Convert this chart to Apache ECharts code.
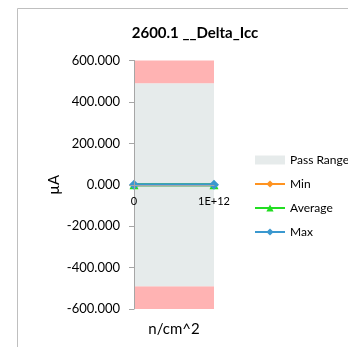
<!DOCTYPE html>
<html>
<head>
<meta charset="utf-8">
<script src="https://cdn.jsdelivr.net/npm/echarts@6/dist/echarts.min.js"></script>
<style>
  html, body { margin: 0; padding: 0; background: #fff; }
  #chart { width: 348px; height: 347px; }
</style>
</head>
<body>
<div id="chart"></div>
<script>
// fluence points (n/cm^2)
const xValues = [0, 1e12]
// limits in µA
const axisLimits = [-600, 600]
const passLimits = [-490, 490]
const minValues = [0, 0]
const avgValues = [0, 0]
const maxValues = [0, 0]

const font = 'Lato, "Open Sans", sans-serif'
const pair = (ys) => xValues.map((x, i) => [x, ys[i]])
const red = '#ffb3b3'
const grey = '#e6ebeb'
const gridTop = 60.5
const gridBottom = 38
const gridH = 347 - gridTop - gridBottom
// distance from the bottom of the grid to y = 0
const zeroOffset = gridH * (0 - axisLimits[0]) / (axisLimits[1] - axisLimits[0])

const line = (name, ys, color, symbol, size) => ({
  name,
  type: 'line',
  data: pair(ys),
  symbol,
  symbolSize: size,
  lineStyle: { color, width: 3 },
  itemStyle: { color },
  z: 5
})

const chart = echarts.init(document.getElementById('chart'))
chart.setOption({
  animation: false,
  title: {
    text: '2600.1 __Delta_Icc',
    left: 190,
    top: 21,
    textAlign: 'center',
    textStyle: { fontFamily: font, fontSize: 15, fontWeight: 'bold', color: '#000' }
  },
  graphic: [{
    type: 'rect',
    shape: { x: 17.5, y: 8.5, width: 400, height: 400 },
    style: { fill: 'none', stroke: '#bfbfbf', lineWidth: 1 },
    silent: true
  }],
  legend: {
    orient: 'vertical',
    left: 249,
    top: 149,
    itemGap: 12,
    itemWidth: 30,
    itemHeight: 9,
    textStyle: { fontFamily: font, fontSize: 12, color: '#000' },
    data: [
      { name: 'Pass Range', icon: 'rect' },
      'Min', 'Average', 'Max'
    ]
  },
  grid: { left: 134, right: 134, top: gridTop, bottom: gridBottom, outerBoundsMode: 'none' },
  xAxis: {
    type: 'value',
    min: 0,
    max: 1e12,
    interval: 1e12,
    offset: -zeroOffset,
    z: 10,
    name: 'n/cm^2',
    nameLocation: 'middle',
    nameGap: zeroOffset + 13,
    nameTextStyle: { fontFamily: font, fontSize: 15, color: '#000' },
    axisLine: { onZero: false, lineStyle: { color: '#a6a6a6' } },
    axisTick: { show: false },
    splitLine: { show: false },
    axisLabel: {
      fontFamily: font, fontSize: 11, color: '#000', margin: 11,
      formatter: (v) => v === 0 ? '0' : '1E+' + Math.round(Math.log10(v))
    }
  },
  yAxis: {
    type: 'value',
    min: axisLimits[0],
    max: axisLimits[1],
    interval: 200,
    z: 10,
    name: 'µA',
    nameLocation: 'middle',
    nameGap: 72,
    nameTextStyle: { fontFamily: font, fontSize: 15, color: '#000' },
    axisLine: { show: true, lineStyle: { color: '#a6a6a6' } },
    axisTick: { show: true, length: 5, lineStyle: { color: '#a6a6a6' } },
    splitLine: { show: false },
    axisLabel: {
      fontFamily: font, fontSize: 13, color: '#000', margin: 14,
      formatter: (v) => v.toFixed(3)
    }
  },
  series: [
    {
      name: 'Pass Range',
      type: 'line',
      data: pair(passLimits),
      symbol: 'none',
      silent: true,
      lineStyle: { width: 0 },
      itemStyle: { color: grey },
      z: 1,
      markArea: {
        silent: true,
        data: [
          [{ yAxis: axisLimits[0], itemStyle: { color: red, opacity: 1 } }, { yAxis: passLimits[0] }],
          [{ yAxis: passLimits[0], itemStyle: { color: grey, opacity: 1 } }, { yAxis: passLimits[1] }],
          [{ yAxis: passLimits[1], itemStyle: { color: red, opacity: 1 } }, { yAxis: axisLimits[1] }]
        ]
      }
    },
    line('Min', minValues, '#ff9320', 'diamond', 8),
    line('Average', avgValues, '#22dd22', 'triangle', 9),
    line('Max', maxValues, '#3a98cf', 'diamond', 10)
  ]
})
</script>
</body>
</html>
